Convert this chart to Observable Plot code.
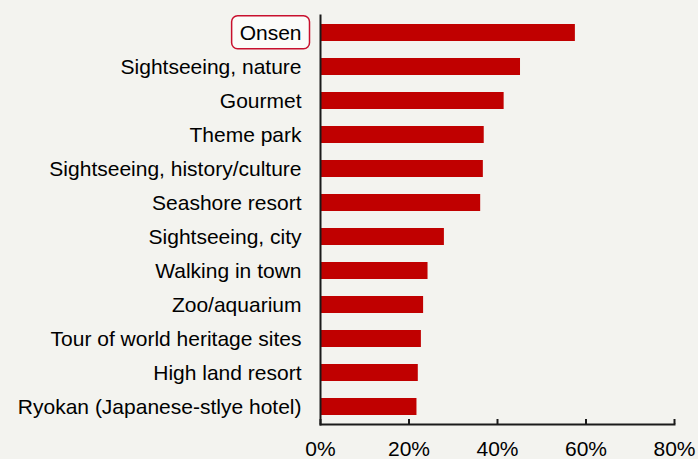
<!DOCTYPE html>
<html>
<head>
<meta charset="utf-8">
<script src="https://cdn.jsdelivr.net/npm/d3@7"></script>
<script src="https://cdn.jsdelivr.net/npm/@observablehq/plot@0.6"></script>
<style>
  html, body { margin: 0; padding: 0; background: #f3f3ef; }
  #chart { width: 698px; height: 459px; }
</style>
</head>
<body>
<div id="chart"></div>
<script>
const categories = [
  "Onsen",
  "Sightseeing, nature",
  "Gourmet",
  "Theme park",
  "Sightseeing, history/culture",
  "Seashore resort",
  "Sightseeing, city",
  "Walking in town",
  "Zoo/aquarium",
  "Tour of world heritage sites",
  "High land resort",
  "Ryokan (Japanese-stlye hotel)"
];
const values = [57.6, 45.2, 41.5, 37.0, 36.8, 36.2, 28.0, 24.3, 23.3, 22.8, 22.1, 21.8];
const xTicks = [0, 20, 40, 60, 80];
const highlighted = "Onsen";

const data = categories.map((c, i) => ({category: c, value: values[i]}));

const chart = Plot.plot({
  width: 698,
  height: 459,
  marginLeft: 320,
  marginRight: 24,
  marginTop: 15,
  marginBottom: 35,
  style: {
    background: "transparent",
    fontFamily: "'Liberation Sans', Arial, sans-serif",
    fontSize: "21px",
    color: "#000",
    overflow: "visible"
  },
  x: {domain: [0, 80]},
  y: {domain: categories, paddingInner: 0.5, paddingOuter: 0.25},
  marks: [
    Plot.barX(data, {x: "value", y: "category", fill: "#c00000"}),
    Plot.axisY({tickSize: 0, tickPadding: 19, label: null, fontSize: 21, fill: "#000"}),
    Plot.axisX({ticks: xTicks, tickSize: -5, tickPadding: 22, tickFormat: d => d + "%", label: null, fontSize: 21, fill: "#000", stroke: "#1a1a1a", strokeWidth: 2}),
    Plot.frame({anchor: "left", stroke: "#1a1a1a", strokeWidth: 2}),
    Plot.frame({anchor: "bottom", stroke: "#1a1a1a", strokeWidth: 2})
  ]
});

document.getElementById("chart").appendChild(chart);

// rounded red box around the highlighted tick label, sized from the label itself
const label = Array.from(chart.querySelectorAll("[aria-label='y-axis tick label'] text"))
  .find(t => t.textContent === highlighted);
if (label) {
  const b = label.getBBox();
  const m = label.getScreenCTM();
  const s = chart.getScreenCTM();
  const dx = m.e - s.e, dy = m.f - s.f;
  const rect = document.createElementNS("http://www.w3.org/2000/svg", "rect");
  rect.setAttribute("x", b.x + dx - 8);
  rect.setAttribute("y", b.y + dy - 5);
  rect.setAttribute("width", b.width + 16);
  rect.setAttribute("height", b.height + 10);
  rect.setAttribute("rx", 6);
  rect.setAttribute("fill", "#fbfbf9");
  rect.setAttribute("stroke", "#c8102e");
  rect.setAttribute("stroke-width", 1.5);
  const axisGroup = chart.querySelector("[aria-label='y-axis tick label']");
  chart.insertBefore(rect, axisGroup);
}
</script>
</body>
</html>
